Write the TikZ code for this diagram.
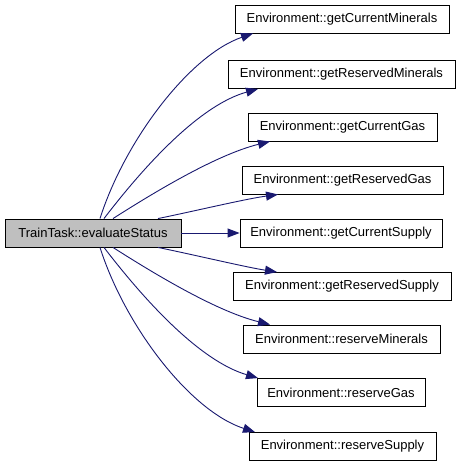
\documentclass[tikz,border=0pt]{standalone}
\usepackage{fontspec}
\setmainfont{Liberation Sans}
\usetikzlibrary{arrows.meta}
\definecolor{edgeblue}{RGB}{25,25,112}
\definecolor{mainfill}{RGB}{191,191,191}
\begin{document}
\begin{tikzpicture}[x=1pt,y=-1pt,
  fnbox/.style={draw=black,line width=0.9pt,fill=white,minimum height=28pt,inner sep=0pt,font=\fontsize{13}{15}\selectfont},
  mainbox/.style={fnbox,fill=mainfill},
  callarrow/.style={draw=edgeblue,line width=0.9pt,-{Triangle[length=12pt,width=9pt]}}]
\useasboundingbox (0,0) rectangle (461,467);
\fill[white] (0,0) rectangle (461,467);
\node[mainbox,minimum width=176pt] (main) at (93,233) {TrainTask::evaluateStatus};
\node[fnbox,minimum width=214pt] (n1) at (342,19) {Environment::getCurrentMinerals};
\node[fnbox,minimum width=227pt] (n2) at (341.5,74.5) {Environment::getReservedMinerals};
\node[fnbox,minimum width=189pt] (n3) at (342.5,127) {Environment::getCurrentGas};
\node[fnbox,minimum width=201pt] (n4) at (342.5,180) {Environment::getReservedGas};
\node[fnbox,minimum width=202pt] (n5) at (341,233) {Environment::getCurrentSupply};
\node[fnbox,minimum width=218pt] (n6) at (342,286.5) {Environment::getReservedSupply};
\node[fnbox,minimum width=197pt] (n7) at (341.5,339) {Environment::reserveMinerals};
\node[fnbox,minimum width=168pt] (n8) at (341,392.5) {Environment::reserveGas};
\node[fnbox,minimum width=187pt] (n9) at (342.5,446.5) {Environment::reserveSupply};
\draw[callarrow] ([xshift=7pt]main.north) .. controls (125,140) and (190,55) .. ([xshift=-89pt]n1.south);
\draw[callarrow] ([xshift=11pt]main.north) .. controls (145,165) and (200,105) .. ([xshift=-83.5pt]n2.south);
\draw[callarrow] ([xshift=20pt]main.north) .. controls (150,195) and (215,155) .. ([xshift=-72.5pt]n3.south);
\draw[callarrow] ([xshift=65pt]main.north) .. controls (195,211) and (245,199) .. ([xshift=-64.5pt]n4.south);
\draw[callarrow] (main.east) -- (n5.west);
\draw[callarrow] ([xshift=65pt]main.south) .. controls (195,255) and (245,267) .. ([xshift=-65pt]n6.north);
\draw[callarrow] ([xshift=20pt]main.south) .. controls (150,271) and (215,311) .. ([xshift=-71.5pt]n7.north);
\draw[callarrow] ([xshift=11pt]main.south) .. controls (145,301) and (200,361) .. ([xshift=-83pt]n8.north);
\draw[callarrow] ([xshift=7pt]main.south) .. controls (125,326) and (190,411) .. ([xshift=-87.5pt]n9.north);
\end{tikzpicture}
\end{document}
